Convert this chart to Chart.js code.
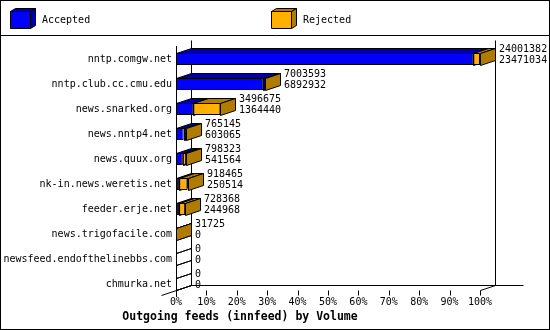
<!DOCTYPE html>
<html>
<head>
<meta charset="utf-8">
<script src="https://cdn.jsdelivr.net/npm/chart.js@4.4.1/dist/chart.umd.min.js"></script>
<style>
  body { margin: 0; background: #ffffff; }
  canvas { display: block; }
</style>
</head>
<body>
<canvas id="feedGraph" width="550" height="330"></canvas>
<script>
var hosts = [
  "nntp.comgw.net",
  "nntp.club.cc.cmu.edu",
  "news.snarked.org",
  "news.nntp4.net",
  "news.quux.org",
  "nk-in.news.weretis.net",
  "feeder.erje.net",
  "news.trigofacile.com",
  "newsfeed.endofthelinebbs.com",
  "chmurka.net"
];
// upper number next to each bar (the orange part reaches it)
var volumeUpper = [24001382, 7003593, 3496675, 765145, 798323, 918465, 728368, 31725, 0, 0];
// lower number next to each bar (the blue part reaches it)
var volumeLower = [23471034, 6892932, 1364440, 603065, 541564, 250514, 244968, 0, 0, 0];
var seriesNames = ["Accepted", "Rejected"];
var percentTicks = [0, 10, 20, 30, 40, 50, 60, 70, 80, 90, 100];

var maxVolume = Math.max.apply(null, volumeUpper);
function pct(v) { return v / maxVolume * 100; }

var DX = 15, DY = 5;
var blue = "#0000ff", blueDark = "#0000a8";
var orange = "#ffb000", orangeDark = "#b07c00";
var mono = "'DejaVu Sans Mono', monospace";

Chart.defaults.font.family = mono;
Chart.defaults.font.size = 10;
Chart.defaults.color = "#000000";

function px(v) { return Math.round(v) + 0.5; }

function poly(ctx, pts, fill) {
  ctx.beginPath();
  ctx.moveTo(px(pts[0][0]), px(pts[0][1]));
  for (var i = 1; i < pts.length; i++) ctx.lineTo(px(pts[i][0]), px(pts[i][1]));
  ctx.closePath();
  if (fill) { ctx.fillStyle = fill; ctx.fill(); }
  ctx.strokeStyle = "#000";
  ctx.lineWidth = 1;
  ctx.stroke();
}

function line(ctx, x1, y1, x2, y2) {
  ctx.beginPath();
  ctx.moveTo(px(x1), px(y1));
  ctx.lineTo(px(x2), px(y2));
  ctx.strokeStyle = "#000";
  ctx.lineWidth = 1;
  ctx.stroke();
}

function cube(ctx, x, y, w, h, front, dark) {
  poly(ctx, [[x, y], [x + w, y], [x + w + 5, y - 3], [x + 5, y - 3]], dark);
  poly(ctx, [[x + w, y], [x + w + 5, y - 3], [x + w + 5, y + h - 3], [x + w, y + h]], dark);
  poly(ctx, [[x, y], [x + w, y], [x + w, y + h], [x, y + h]], front);
}

var graph3d = {
  id: "graph3d",
  beforeDraw: function (chart) {
    var ctx = chart.ctx;
    ctx.save();
    ctx.fillStyle = "#ffffff";
    ctx.fillRect(0, 0, chart.width, chart.height);
    ctx.restore();
  },
  beforeDatasetsDraw: function (chart) {
    var ctx = chart.ctx, a = chart.chartArea;
    var floor = a.bottom - 6.5, top = a.top - 6.5;
    ctx.save();
    line(ctx, a.left + DX, top, a.left + DX, floor - DY);
    line(ctx, a.right + DX, top, a.right + DX, floor - DY);
    line(ctx, a.left + DX, floor - DY, a.right + DX + 28, floor - DY);
    line(ctx, a.left - DX, floor + DY, a.left + DX, floor - DY);
    line(ctx, a.right, floor, a.right + DX, floor - DY);
    var xs = chart.scales.x;
    percentTicks.forEach(function (t) {
      var x = xs.getPixelForValue(t);
      line(ctx, x, floor, x, floor + 5);
    });
    ctx.restore();
  },
  afterDatasetDraw: function (chart, args) {
    var ctx = chart.ctx;
    var dark = chart.data.datasets[args.index].darkColor;
    ctx.save();
    args.meta.data.forEach(function (el) {
      var p = el.getProps(["x", "y", "base", "height"], true);
      var l = Math.min(p.x, p.base), r = Math.max(p.x, p.base);
      var t = p.y - p.height / 2, b = p.y + p.height / 2;
      var empty = (r - l) < 0.01;
      if (!empty) {
        poly(ctx, [[l, t], [r, t], [r + DX, t - DY], [l + DX, t - DY]], dark);
      }
      poly(ctx, [[r, t], [r + DX, t - DY], [r + DX, b - DY], [r, b]], empty ? null : dark);
    });
    ctx.restore();
  },
  afterDatasetsDraw: function (chart) {
    var ctx = chart.ctx;
    var metaOrange = chart.getDatasetMeta(1);
    ctx.save();
    ctx.font = "10px " + mono;
    ctx.fillStyle = "#000";
    ctx.textAlign = "left";
    ctx.textBaseline = "middle";
    metaOrange.data.forEach(function (el, i) {
      var p = el.getProps(["x", "y"], true);
      var x = Math.round(p.x) + DX + 4;
      ctx.fillText(String(volumeUpper[i]), x, p.y - 10);
      ctx.fillText(String(volumeLower[i]), x, p.y + 1);
    });
    ctx.restore();
  },
  afterDraw: function (chart) {
    var ctx = chart.ctx;
    ctx.save();
    ctx.strokeStyle = "#000";
    ctx.lineWidth = 1;
    ctx.strokeRect(0.5, 0.5, chart.width - 1, chart.height - 1);
    line(ctx, 0, 35, chart.width, 35);
    cube(ctx, 10, 11, 20, 17, blue, blueDark);
    cube(ctx, 271, 11, 20, 17, orange, orangeDark);
    ctx.font = "10px " + mono;
    ctx.fillStyle = "#000";
    ctx.textAlign = "left";
    ctx.textBaseline = "middle";
    ctx.fillText(seriesNames[0], 42, 20);
    ctx.fillText(seriesNames[1], 303, 20);
    ctx.restore();
  }
};

var ctx = document.getElementById("feedGraph").getContext("2d");

var feedGraph = new Chart(ctx, {
  type: "bar",
  data: {
    labels: hosts,
    datasets: [
      {
        label: seriesNames[0],
        data: volumeLower.map(pct),
        backgroundColor: blue,
        darkColor: blueDark,
        borderColor: "#000000",
        borderWidth: 1,
        borderSkipped: false,
        order: 1
      },
      {
        label: seriesNames[1],
        data: volumeLower.map(function (v, i) { return [pct(v), pct(volumeUpper[i])]; }),
        backgroundColor: orange,
        darkColor: orangeDark,
        borderColor: "#000000",
        borderWidth: 1,
        borderSkipped: false,
        order: 0
      }
    ]
  },
  options: {
    responsive: false,
    animation: false,
    indexAxis: "y",
    grouped: false,
    categoryPercentage: 1,
    barPercentage: 0.48,
    layout: {
      padding: { top: 46.5, right: 70, bottom: 6, left: 0 }
    },
    scales: {
      x: {
        type: "linear",
        min: 0,
        max: 100,
        afterBuildTicks: function (scale) {
          scale.ticks = percentTicks.map(function (v) { return { value: v }; });
        },
        afterFit: function (scale) {
          scale.height = 330 - 6 - 13.8 - 296.5;
        },
        grid: { display: false, drawTicks: false },
        border: { display: false },
        ticks: {
          padding: 0,
          maxRotation: 0,
          callback: function (v) { return v + "%"; }
        }
      },
      y: {
        afterFit: function (scale) {
          scale.width = 176;
        },
        grid: { display: false, drawTicks: false },
        border: { display: true, color: "#000000", width: 1 },
        ticks: { padding: 4, autoSkip: false }
      }
    },
    plugins: {
      legend: { display: false },
      tooltip: { enabled: false },
      title: {
        display: true,
        position: "bottom",
        text: "Outgoing feeds (innfeed) by Volume",
        color: "#000000",
        font: { family: mono, size: 11.5, weight: "bold" },
        padding: { top: 0, bottom: 0 }
      }
    }
  },
  plugins: [graph3d]
});
</script>
</body>
</html>
